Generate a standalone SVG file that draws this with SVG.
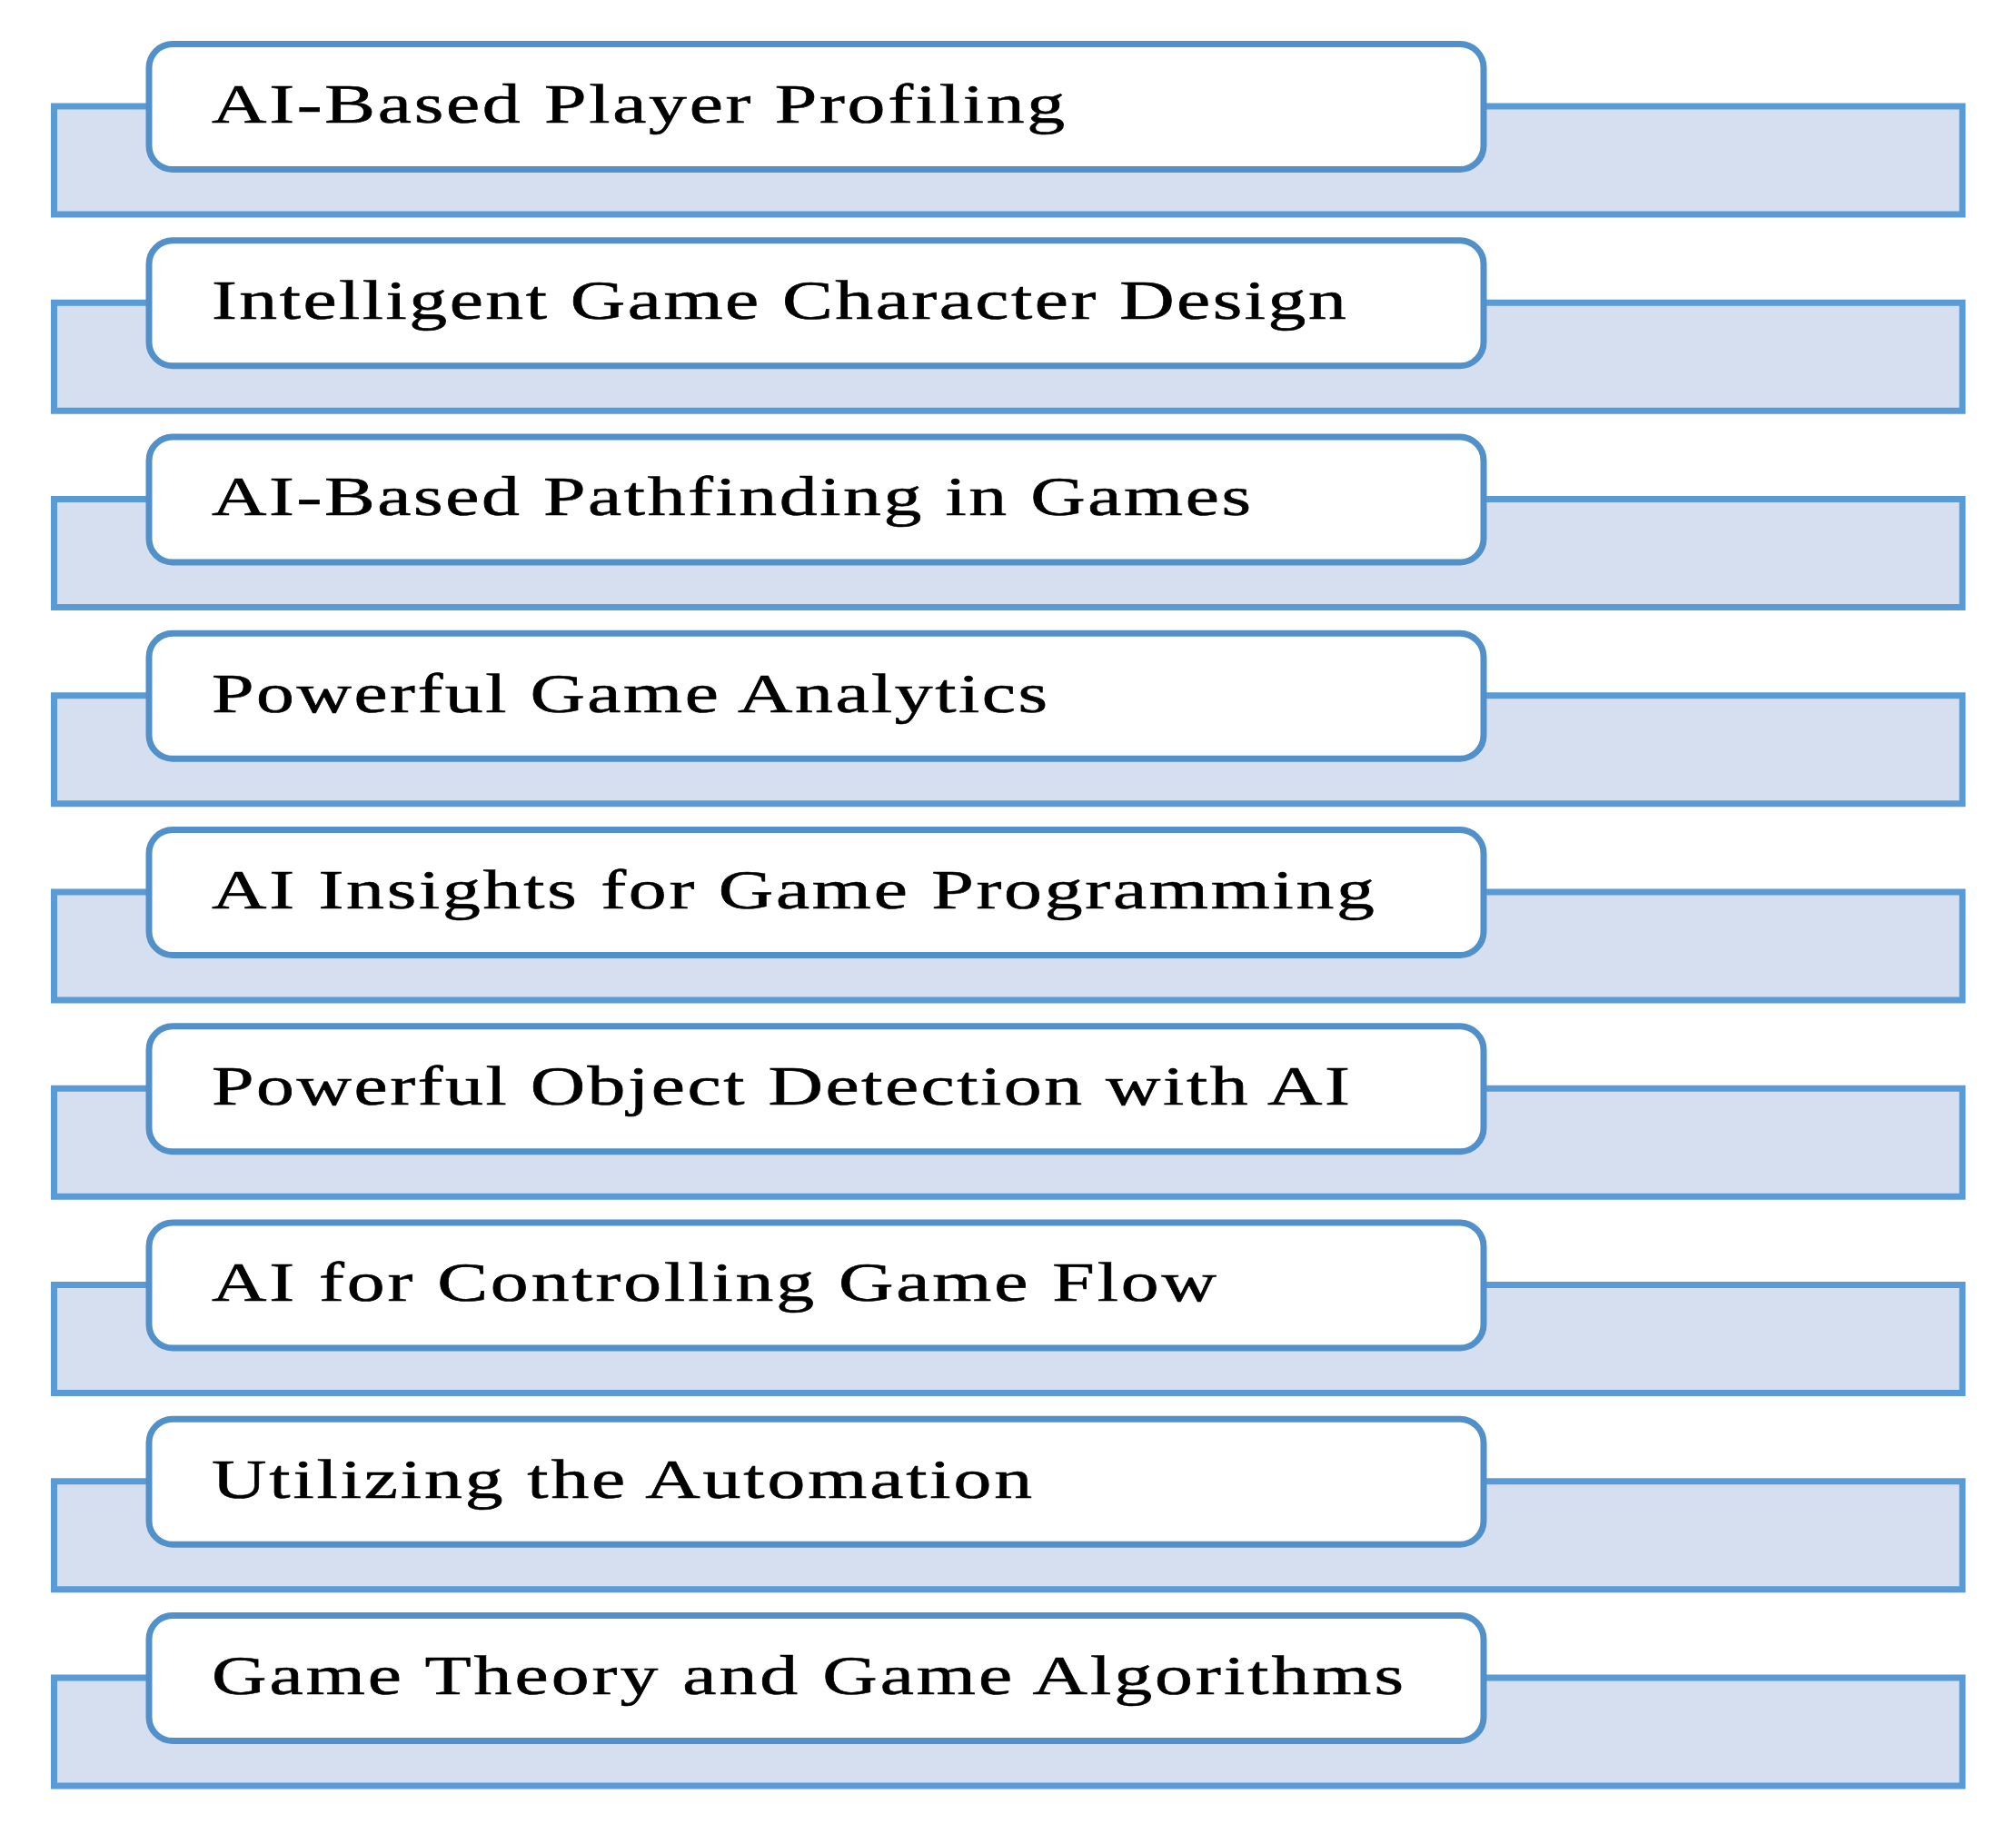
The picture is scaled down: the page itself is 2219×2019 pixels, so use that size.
<svg xmlns="http://www.w3.org/2000/svg" width="2219" height="2019" viewBox="0 0 2219 2019">
<style>
.bg{fill:#D6DFF0;stroke:#5B9BD5;stroke-width:7}
.box{fill:#FFFFFF;stroke:#5290C9;stroke-width:7}
.lbl{font-family:"Liberation Serif","Times New Roman",serif;font-size:62px;fill:#000;stroke:#000;stroke-width:0.6}
</style>
<rect width="2219" height="2019" fill="#FFFFFF"/>
<g id="connectors"/>
<g id="node1" transform="translate(0,0)">
<rect class="bg" x="59.5" y="117" width="2100.5" height="119"/>
<rect class="box" x="164" y="48.5" width="1469" height="138" rx="26"/>
<text class="lbl" x="172.6" y="135" transform="scale(1.35 1)" textLength="695.6" lengthAdjust="spacing">AI-Based Player Profiling</text>
</g>
<g id="node2" transform="translate(0,216.25)">
<rect class="bg" x="59.5" y="117" width="2100.5" height="119"/>
<rect class="box" x="164" y="48.5" width="1469" height="138" rx="26"/>
<text class="lbl" x="172.6" y="135" transform="scale(1.35 1)" textLength="925" lengthAdjust="spacing">Intelligent Game Character Design</text>
</g>
<g id="node3" transform="translate(0,432.5)">
<rect class="bg" x="59.5" y="117" width="2100.5" height="119"/>
<rect class="box" x="164" y="48.5" width="1469" height="138" rx="26"/>
<text class="lbl" x="172.6" y="135" transform="scale(1.35 1)" textLength="847.4" lengthAdjust="spacing">AI-Based Pathfinding in Games</text>
</g>
<g id="node4" transform="translate(0,648.75)">
<rect class="bg" x="59.5" y="117" width="2100.5" height="119"/>
<rect class="box" x="164" y="48.5" width="1469" height="138" rx="26"/>
<text class="lbl" x="172.6" y="135" transform="scale(1.35 1)" textLength="681.5" lengthAdjust="spacing">Powerful Game Analytics</text>
</g>
<g id="node5" transform="translate(0,865)">
<rect class="bg" x="59.5" y="117" width="2100.5" height="119"/>
<rect class="box" x="164" y="48.5" width="1469" height="138" rx="26"/>
<text class="lbl" x="172.6" y="135" transform="scale(1.35 1)" textLength="948.1" lengthAdjust="spacing">AI Insights for Game Programming</text>
</g>
<g id="node6" transform="translate(0,1081.25)">
<rect class="bg" x="59.5" y="117" width="2100.5" height="119"/>
<rect class="box" x="164" y="48.5" width="1469" height="138" rx="26"/>
<text class="lbl" x="172.6" y="135" transform="scale(1.35 1)" textLength="928" lengthAdjust="spacing">Powerful Object Detection with AI</text>
</g>
<g id="node7" transform="translate(0,1297.5)">
<rect class="bg" x="59.5" y="117" width="2100.5" height="119"/>
<rect class="box" x="164" y="48.5" width="1469" height="138" rx="26"/>
<text class="lbl" x="172.6" y="135" transform="scale(1.35 1)" textLength="819.3" lengthAdjust="spacing">AI for Controlling Game Flow</text>
</g>
<g id="node8" transform="translate(0,1513.75)">
<rect class="bg" x="59.5" y="117" width="2100.5" height="119"/>
<rect class="box" x="164" y="48.5" width="1469" height="138" rx="26"/>
<text class="lbl" x="172.6" y="135" transform="scale(1.35 1)" textLength="668.9" lengthAdjust="spacing">Utilizing the Automation</text>
</g>
<g id="node9" transform="translate(0,1730)">
<rect class="bg" x="59.5" y="117" width="2100.5" height="119"/>
<rect class="box" x="164" y="48.5" width="1469" height="138" rx="26"/>
<text class="lbl" x="172.6" y="135" transform="scale(1.35 1)" textLength="971.9" lengthAdjust="spacing">Game Theory and Game Algorithms</text>
</g>
</svg>
